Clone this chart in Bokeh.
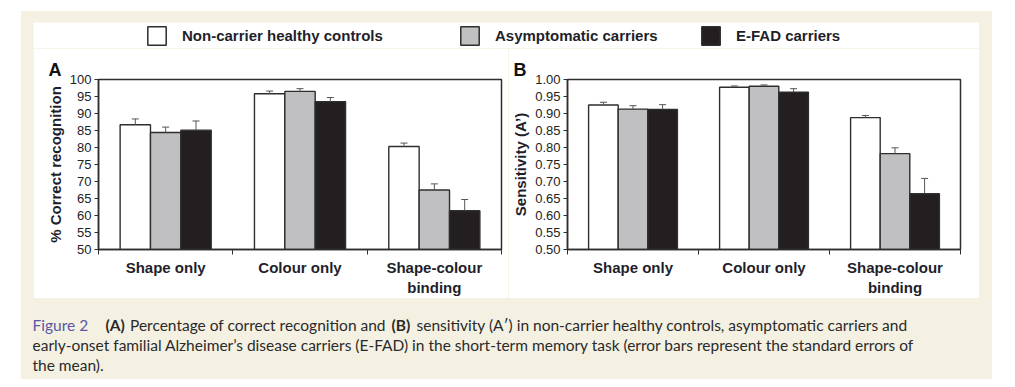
from bokeh.plotting import figure
from bokeh.layouts import column, row
from bokeh.models import (ColumnDataSource, FixedTicker, Whisker, TeeHead, Legend, LegendItem,
                          Range1d, Spacer, NumeralTickFormatter, Title)
from bokeh.transform import dodge
from bokeh.core.properties import value
from bokeh.embed import file_html
from bokeh.resources import INLINE

# ---------------- data ----------------
categories = ["Shape only", "Colour only", "Shape-colour\nbinding"]
groups = ["Non-carrier healthy controls", "Asymptomatic carriers", "E-FAD carriers"]

# Panel A: % correct recognition (means and standard errors)
correct_controls = [86.7, 95.8, 80.3]
correct_asymptomatic = [84.4, 96.5, 67.5]
correct_efad = [85.1, 93.5, 61.4]
correct_se_controls = [1.7, 0.8, 1.0]
correct_se_asymptomatic = [1.6, 0.8, 1.8]
correct_se_efad = [2.7, 1.2, 3.3]

# Panel B: sensitivity (A')
sens_controls = [0.925, 0.977, 0.888]
sens_asymptomatic = [0.913, 0.980, 0.782]
sens_efad = [0.912, 0.963, 0.664]
sens_se_controls = [0.008, 0.004, 0.006]
sens_se_asymptomatic = [0.010, 0.004, 0.017]
sens_se_efad = [0.014, 0.010, 0.045]

yticks_a = [50, 55, 60, 65, 70, 75, 80, 85, 90, 95, 100]
yticks_b = [0.50, 0.55, 0.60, 0.65, 0.70, 0.75, 0.80, 0.85, 0.90, 0.95, 1.00]

caption_line1 = [("Figure 2", "normal", "blue"),
                 ("(A)", "bold", "text"),
                 ("Percentage of correct recognition and", "normal", "text"),
                 ("(B)", "bold", "text"),
                 ("sensitivity (A\u2032) in non-carrier healthy controls, asymptomatic carriers and", "normal", "text")]
caption_line2 = "early-onset familial Alzheimer\u2019s disease carriers (E-FAD) in the short-term memory task (error bars represent the standard errors of"
caption_line3 = "the mean)."

# ---------------- style ----------------
BEIGE = "#f4f1e3"
DARK = "#2e2e2e"
TEXT = "#1f1f2b"
FILLS = ["#ffffff", "#c0c0c2", "#231f20"]
FONT = "Liberation Sans"
BAR_W = 0.226
OFFSETS = [-0.226, 0.0, 0.226]


def make_panel(means, ses, yticks, ylabel, letter, width, left, right, top, fmt, letter_offset):
    y0, y1 = yticks[0], yticks[-1]
    p = figure(width=width, height=250, x_range=Range1d(0, len(categories)),
               y_range=Range1d(y0, y1), output_backend="svg", toolbar_location=None,
               min_border_left=left, min_border_right=right, min_border_top=top,
               min_border_bottom=47)
    p.title = Title(text=letter, align="left", offset=letter_offset, standoff=0,
                    text_font=FONT, text_font_size="18px", text_font_style="bold",
                    text_color="#111111")
    p.grid.visible = False
    p.outline_line_color = DARK
    p.outline_line_width = 1.5
    p.outline_line_alpha = 1.0
    centers = [i + 0.5 for i in range(len(categories))]
    for k in range(len(groups)):
        src = ColumnDataSource(dict(
            x=centers, top=means[k],
            upper=[m + s for m, s in zip(means[k], ses[k])],
            cat=categories))
        p.vbar(x=dodge("x", OFFSETS[k], range=p.x_range), top="top", bottom=y0, width=BAR_W,
               fill_color=FILLS[k], line_color=DARK, line_width=1.4, source=src)
        p.add_layout(Whisker(source=src, base=dodge("x", OFFSETS[k], range=p.x_range),
                             lower="top", upper="upper", line_color="#555555", line_width=1,
                             upper_head=TeeHead(size=7, line_color="#555555", line_width=1),
                             lower_head=None, level="annotation"))
    xa = p.xaxis[0]
    xa.ticker = FixedTicker(ticks=centers, minor_ticks=[0, 1, 2, 3])
    xa.major_label_overrides = {c: lab for c, lab in zip(centers, categories)}
    xa.major_tick_out = 0
    xa.major_tick_in = 0
    xa.minor_tick_out = 5
    xa.minor_tick_in = 0
    xa.minor_tick_line_color = DARK
    xa.axis_line_color = DARK
    xa.axis_line_width = 1.5
    xa.major_label_standoff = 4
    xa.major_label_text_font = FONT
    xa.major_label_text_font_size = "15px"
    xa.major_label_text_font_style = "bold"
    xa.major_label_text_color = TEXT

    ya = p.yaxis[0]
    ya.ticker = FixedTicker(ticks=yticks, minor_ticks=[])
    ya.formatter = NumeralTickFormatter(format=fmt)
    ya.major_tick_out = 4
    ya.major_tick_in = 0
    ya.major_tick_line_color = DARK
    ya.axis_line_color = DARK
    ya.axis_line_width = 1.5
    ya.major_label_standoff = 3
    ya.major_label_text_font = FONT
    ya.major_label_text_font_size = "13px"
    ya.major_label_text_color = "#222222"
    ya.axis_label = ylabel
    ya.axis_label_standoff = 3
    ya.axis_label_text_font = FONT
    ya.axis_label_text_font_size = "15px"
    ya.axis_label_text_font_style = "bold"
    ya.axis_label_text_color = TEXT
    return p


figA = make_panel([correct_controls, correct_asymptomatic, correct_efad],
                  [correct_se_controls, correct_se_asymptomatic, correct_se_efad],
                  yticks_a, "% Correct recognition", "A", 475, 65, 7, 30, "0", -50)
figB = make_panel([sens_controls, sens_asymptomatic, sens_efad],
                  [sens_se_controls, sens_se_asymptomatic, sens_se_efad],
                  yticks_b, "Sensitivity (A\u2019)", "B", 471, 59, 19, 31, "0.00", -54)

# ---------------- legend strip ----------------
# The swatches take their style from zero-size bars that lie outside the strip's y range.
leg = figure(width=946, height=26, x_range=Range1d(0, 3), y_range=Range1d(1000, 1100),
             output_backend="svg", toolbar_location=None, min_border=0,
             x_axis_location=None, y_axis_location=None, outline_line_color=None)
leg.grid.visible = False
legend_x = [112, 425, 666]
legend_series = [correct_controls, correct_asymptomatic, correct_efad]
for k in range(len(groups)):
    lsrc = ColumnDataSource(dict(x=[i + 0.5 for i in range(len(categories))], top=legend_series[k]))
    r = leg.vbar(x="x", top="top", bottom="top", width=0, source=lsrc,
                 fill_color=FILLS[k], line_color=DARK, line_width=1.5)
    leg.add_layout(Legend(items=[LegendItem(label=groups[k], renderers=[r])],
                          location=(legend_x[k], 1), orientation="horizontal",
                          glyph_width=23, glyph_height=23, label_standoff=14,
                          padding=0, margin=0, border_line_color=None,
                          background_fill_alpha=0, label_text_font=FONT,
                          label_text_font_size="15px", label_text_font_style="bold",
                          label_text_color=TEXT))

# ---------------- caption ----------------
cap = figure(width=971, height=81, x_range=Range1d(0, 971), y_range=Range1d(81, 0),
             output_backend="svg", toolbar_location=None, min_border=0,
             x_axis_location=None, y_axis_location=None, outline_line_color=None,
             background_fill_color=BEIGE, border_fill_color=BEIGE)
cap.grid.visible = False
seg_x = [11, 84, 108.5, 370, 395]
colors = {"blue": "#5a58a3", "text": "#2a2a2a"}
cx, cy, ct, cs, cc = [], [], [], [], []
for (t, st, col), x in zip(caption_line1, seg_x):
    cx.append(x); cy.append(26.5); ct.append(t); cs.append(st); cc.append(colors[col])
for t, y in ((caption_line2, 46.5), (caption_line3, 66.2)):
    cx.append(11); cy.append(y); ct.append(t); cs.append("normal"); cc.append(colors["text"])
cap.text(x="x", y="y", text="text", text_font_style="style", text_color="color",
         text_font=value("Lato"), text_font_size="15.5px", text_baseline="alphabetic",
         source=ColumnDataSource(dict(x=cx, y=cy, text=ct, style=cs, color=cc)))

# ---------------- layout ----------------
bg = {"background-color": BEIGE}
white_panel = column(leg, row(figA, figB))
beige_block = column(
    Spacer(width=971, height=11, styles=bg),
    row(Spacer(width=12, height=276, styles=bg), white_panel, Spacer(width=13, height=276, styles=bg)),
    cap, styles=bg)
page = column(Spacer(width=992, height=11),
              row(Spacer(width=21, height=368), beige_block))

open("out.html", "w").write(file_html(page, INLINE))
